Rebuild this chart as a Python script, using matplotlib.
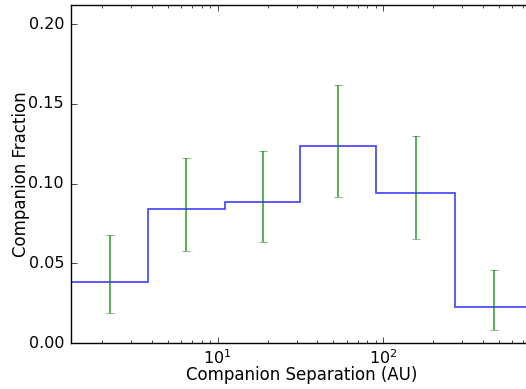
import numpy as np
import matplotlib
matplotlib.use('Agg')
import matplotlib.pyplot as plt

# bordes de los bins (AU) y fraccion de companeros por bin
bin_edges = [1.3, 3.8, 11.0, 31.6, 90.8, 272.0, 790.0]
fraction = [0.0382, 0.0840, 0.0884, 0.1235, 0.0940, 0.0226]
err_low = [0.0188, 0.0577, 0.0633, 0.0915, 0.0652, 0.0082]
err_high = [0.0677, 0.1160, 0.1204, 0.1618, 0.1298, 0.0458]

plt.style.use('classic')

edges = np.array(bin_edges)
vals = np.array(fraction)
centers = np.sqrt(edges[:-1] * edges[1:])
yerr = [vals - np.array(err_low), np.array(err_high) - vals]

fig = plt.figure(figsize=(5.26, 3.89), dpi=100, facecolor='white')
ax = fig.add_axes([71 / 526, 46 / 389, (532 - 71) / 526, (343 - 5) / 389])

ax.stairs(vals, edges, color='b', linewidth=1.2, alpha=0.75)
ax.errorbar(centers, vals, yerr=yerr, fmt='none', ecolor='g', elinewidth=1.2,
            capsize=3, alpha=0.75)

ax.set_xscale('log')
ax.set_xlim(edges[0], edges[-1])
ax.set_ylim(0, 0.212)
ax.set_yticks([0.0, 0.05, 0.10, 0.15, 0.20])
ax.yaxis.set_major_formatter(matplotlib.ticker.FormatStrFormatter('%.2f'))
ax.tick_params(labelsize=11.5)
ax.tick_params(axis='y', pad=5)

ax.set_xlabel('Companion Separation (AU)', fontsize=12, labelpad=-1)
ax.set_ylabel('Companion Fraction', fontsize=12, labelpad=-1)

fig.savefig('out.png', dpi=100, facecolor='white')
